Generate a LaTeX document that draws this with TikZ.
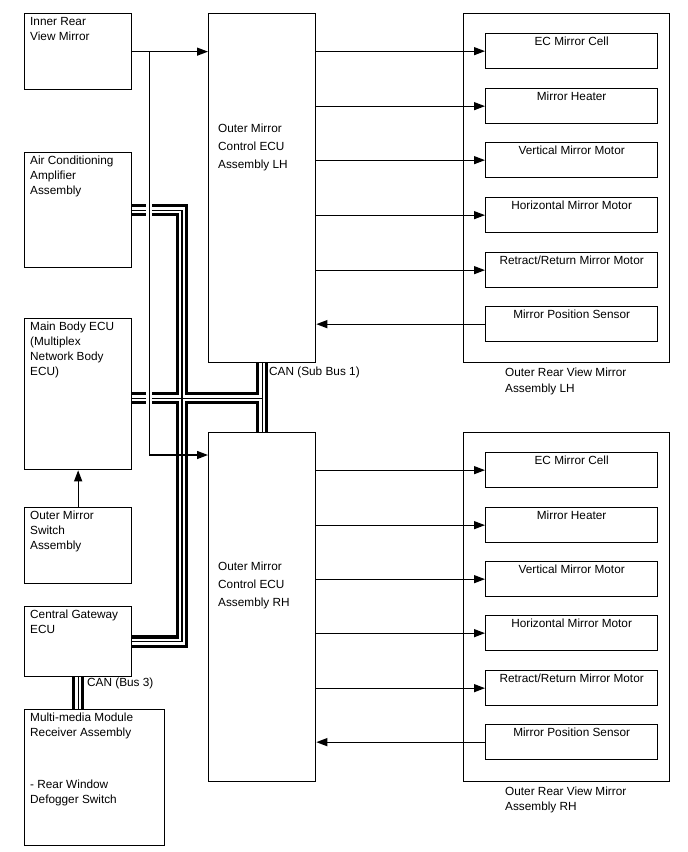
\documentclass[tikz,border=0pt]{standalone}
\usepackage{fontspec}
\setmainfont{Liberation Sans}
\usetikzlibrary{arrows.meta,positioning,calc}

\tikzset{
  ecubox/.style={draw, line width=1.3pt, anchor=north west, inner sep=0pt, minimum width=107pt},
  boxtxt/.style={anchor=north west, align=left, inner xsep=6pt, inner ysep=4pt,
                 font=\fontsize{11.8}{15}\selectfont},
  ecutxt/.style={font=\fontsize{11.8}{18}\selectfont, xshift=4pt},
  compbox/.style={draw, line width=1.3pt, anchor=north west, inner sep=0pt,
                  minimum width=172pt, minimum height=35pt},
  comptxt/.style={anchor=north, inner sep=4pt, font=\fontsize{11.8}{15}\selectfont},
  sigline/.style={line width=1.3pt, -{Triangle[length=11pt,width=8pt]}},
  bus/.style={line width=12.5pt, postaction={draw=white, line width=6pt},
              postaction={draw=black, line width=1.2pt}},
}

\begin{document}
\begin{tikzpicture}[x=1pt, y=-1pt]
  \useasboundingbox (0,0) rectangle (688,852);

  % Left column
  \node[ecubox, minimum height=76pt,
        label={[boxtxt]north west:{Inner Rear\\View Mirror}}] (irvm) at (24,13) {};
  \node[ecubox, minimum height=115pt,
        label={[boxtxt]north west:{Air Conditioning\\Amplifier\\Assembly}}] (ac) at (24,152) {};
  \node[ecubox, minimum height=151pt,
        label={[boxtxt]north west:{Main Body ECU\\(Multiplex\\Network Body\\ECU)}}] (mb) at (24,318) {};
  \node[ecubox, minimum height=76pt,
        label={[boxtxt]north west:{Outer Mirror\\Switch\\Assembly}}] (sw) at (24,507) {};
  \node[ecubox, minimum height=70pt,
        label={[boxtxt]north west:{Central Gateway\\ECU}}] (cg) at (24,606) {};
  \node[ecubox, minimum width=140pt, minimum height=136pt,
        label={[boxtxt]north west:{Multi-media Module\\Receiver Assembly\\[37pt]- Rear Window\\Defogger Switch}}] (mm) at (24,709) {};

  % Mirror control ECUs
  \node[ecubox, minimum height=349pt,
        label={[boxtxt, ecutxt, yshift=-107pt]north west:{Outer Mirror\\Control ECU\\Assembly LH}}] (lh) at (208,13) {};
  \node[ecubox, minimum height=349pt,
        label={[boxtxt, ecutxt, yshift=-126pt]north west:{Outer Mirror\\Control ECU\\Assembly RH}}] (rh) at (208,432) {};

  % Outer rear view mirrors
  \node[ecubox, minimum width=206pt, minimum height=349pt,
        label={[boxtxt, xshift=36pt, font=\fontsize{11.8}{16}\selectfont]south west:{Outer Rear View Mirror\\Assembly LH}}] (orvl) at (463,13) {};
  \node[ecubox, minimum width=206pt, minimum height=349pt,
        label={[boxtxt, xshift=36pt, font=\fontsize{11.8}{15}\selectfont]south west:{Outer Rear View Mirror\\Assembly RH}}] (orvr) at (463,432) {};

  \node[compbox, label={[comptxt]north:EC Mirror Cell}] (ecl) at (485,33) {};
  \node[compbox, label={[comptxt]north:Mirror Heater}] (htl) at (485,88) {};
  \node[compbox, label={[comptxt]north:Vertical Mirror Motor}] (vml) at (485,142) {};
  \node[compbox, label={[comptxt]north:Horizontal Mirror Motor}] (hml) at (485,197) {};
  \node[compbox, label={[comptxt]north:Retract/Return Mirror Motor}] (rml) at (485,252) {};
  \node[compbox, label={[comptxt]north:Mirror Position Sensor}] (psl) at (485,306) {};

  \node[compbox, label={[comptxt]north:EC Mirror Cell}] (ecr) at (485,452) {};
  \node[compbox, label={[comptxt]north:Mirror Heater}] (htr) at (485,507) {};
  \node[compbox, label={[comptxt]north:Vertical Mirror Motor}] (vmr) at (485,561) {};
  \node[compbox, label={[comptxt]north:Horizontal Mirror Motor}] (hmr) at (485,615) {};
  \node[compbox, label={[comptxt]north:Retract/Return Mirror Motor}] (rmr) at (485,670) {};
  \node[compbox, label={[comptxt]north:Mirror Position Sensor}] (psr) at (485,724) {};

  % CAN buses
  \coordinate (busx) at (182,0);
  \draw[bus] (ac.east) -- (ac.east -| busx) -- (cg.east -| busx) -- (cg.east)
             ([yshift=-4pt]mb.east) -- ([yshift=-4pt]mb.east -| lh.south)
             (lh.south) -- (rh.north)
             (cg.south) -- (cg.south |- mm.north);
  \node[boxtxt, anchor=west, inner xsep=1pt] (cansub) at (268,372) {CAN (Sub Bus 1)};
  \node[boxtxt, anchor=west, inner xsep=1pt] (canb3) at (86,683) {CAN (Bus 3)};

  % Inner rear view mirror signal
  \coordinate (split) at ([xshift=17pt]irvm.east);
  \draw[white, line width=6pt] ([yshift=-10pt]split) -- (split |- rh.north);
  \draw[sigline] (irvm.east) -- (irvm.east -| lh.west);
  \draw[sigline] (split) |- ([yshift=-23pt]rh.north west);
  \draw[sigline] (sw.north) -- (mb.south);

  % LH outputs
  \draw[sigline] (ecl.west -| lh.east) -- (ecl.west);
  \draw[sigline] (htl.west -| lh.east) -- (htl.west);
  \draw[sigline] (vml.west -| lh.east) -- (vml.west);
  \draw[sigline] (hml.west -| lh.east) -- (hml.west);
  \draw[sigline] (rml.west -| lh.east) -- (rml.west);
  \draw[sigline] (psl.west) -- (psl.west -| lh.east);

  % RH outputs
  \draw[sigline] (ecr.west -| rh.east) -- (ecr.west);
  \draw[sigline] (htr.west -| rh.east) -- (htr.west);
  \draw[sigline] (vmr.west -| rh.east) -- (vmr.west);
  \draw[sigline] (hmr.west -| rh.east) -- (hmr.west);
  \draw[sigline] (rmr.west -| rh.east) -- (rmr.west);
  \draw[sigline] (psr.west) -- (psr.west -| rh.east);
\end{tikzpicture}
\end{document}
